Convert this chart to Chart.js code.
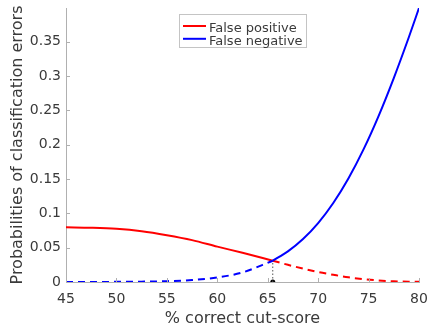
<!DOCTYPE html>
<html><head><meta charset="utf-8">
<script src="https://cdn.jsdelivr.net/npm/chart.js@4"></script>
<style>html,body{margin:0;padding:0;background:#fff;}#wrap{width:430px;height:333px;position:relative;}</style>
</head><body><div id="wrap"><canvas id="c" width="430" height="333"></canvas></div>
<script>
const cutScores      = [45, 47.5, 50, 52.5, 55, 57.5, 60, 62.5, 65.5, 67, 68.5, 70, 71.5, 73, 74.5, 76, 77.5, 79, 80];
const falsePositive  = [0.0796, 0.079, 0.0775, 0.074, 0.0682, 0.061, 0.0515, 0.0425, 0.031, 0.025, 0.0195, 0.0145, 0.0105, 0.0068, 0.0042, 0.0022, 0.001, 0.0004, 0.0003];
const falseNegative  = [0.0000, 0.0001, 0.0002, 0.0005, 0.0012, 0.0029, 0.0066, 0.0139, 0.031, 0.0446, 0.0626, 0.0858, 0.1151, 0.1508, 0.1931, 0.242, 0.297, 0.3568, 0.399];
const seriesLabels   = ['False positive', 'False negative'];
const xTicks         = [45, 50, 55, 60, 65, 70, 75, 80];
const xTickLabels    = ['45', '50', '55', '60', '65', '70', '75', '80'];
const yTicks         = [0, 0.05, 0.1, 0.15, 0.2, 0.25, 0.3, 0.35];
const yTickLabels    = ['0', '0.05', '0.1', '0.15', '0.2', '0.25', '0.3', '0.35'];
const cutoffScore    = 65.5;
const cutoffError    = 0.031;
const xTitle = '% correct cut-score';
const yTitle = 'Probabilities of classification errors';

const RED = '#ff0000', BLUE = '#0000ff', AXIS = '#b0b0b0', TEXT = '#3a3a3a';
const FONT = 'DejaVu Sans';
const splitIdx = cutScores.indexOf(cutoffScore);
const pts = arr => cutScores.map((x, i) => ({x: x, y: arr[i]}));
const fp = pts(falsePositive), fn = pts(falseNegative);

const innerTicks = {
  id: 'innerTicks',
  afterDraw(chart) {
    const {ctx, chartArea: a, scales: {x, y}} = chart;
    ctx.save();
    ctx.strokeStyle = AXIS; ctx.lineWidth = 1;
    ctx.beginPath();
    xTicks.forEach(v => { const p = Math.round(x.getPixelForValue(v)) + 0.5; ctx.moveTo(p, a.bottom); ctx.lineTo(p, a.bottom - 4); });
    yTicks.forEach(v => { const p = Math.round(y.getPixelForValue(v)) + 0.5; ctx.moveTo(a.left, p); ctx.lineTo(a.left + 4, p); });
    ctx.stroke();
    ctx.restore();
  }
};

const boxLegend = {
  id: 'boxLegend',
  afterDraw(chart) {
    const ctx = chart.ctx;
    const colors = [RED, BLUE];
    const left = 179.5, top = 14.5, w = 127, h = 33;
    ctx.save();
    ctx.fillStyle = '#fff';
    ctx.fillRect(left, top, w, h);
    ctx.strokeStyle = '#c4c4c4'; ctx.lineWidth = 1;
    ctx.strokeRect(left, top, w, h);
    ctx.font = '13px "' + FONT + '"';
    ctx.textBaseline = 'alphabetic';
    ctx.textAlign = 'left';
    seriesLabels.forEach((lab, i) => {
      const cy = 26 + i * 12.8;
      ctx.strokeStyle = colors[i]; ctx.lineWidth = 2;
      ctx.beginPath(); ctx.moveTo(183, cy); ctx.lineTo(206, cy); ctx.stroke();
      ctx.fillStyle = TEXT;
      ctx.fillText(lab, 209, 31.5 + i * 13.4);
    });
    ctx.restore();
  }
};

new Chart(document.getElementById('c'), {
  type: 'line',
  data: {
    datasets: [
      {label: seriesLabels[1], data: fn.slice(splitIdx), borderColor: BLUE, borderWidth: 2},
      {label: seriesLabels[1] + ' (below cut)', data: fn.slice(0, splitIdx + 1), borderColor: BLUE, borderWidth: 2, borderDash: [7, 5]},
      {label: seriesLabels[0], data: fp.slice(0, splitIdx + 1), borderColor: RED, borderWidth: 2},
      {label: seriesLabels[0] + ' (above cut)', data: fp.slice(splitIdx), borderColor: RED, borderWidth: 2, borderDash: [7, 5]},
      {label: 'cut', data: [{x: cutoffScore, y: 0}, {x: cutoffScore, y: cutoffError}], borderColor: '#555', borderWidth: 1, borderDash: [1.5, 2], cubicInterpolationMode: 'default', tension: 0},
      {label: 'cut point', data: [{x: cutoffScore, y: 0}], showLine: false, pointRadius: 2.5, pointBackgroundColor: '#000', pointBorderColor: '#000', pointBorderWidth: 0}
    ]
  },
  options: {
    responsive: false,
    animation: false,
    devicePixelRatio: 1,
    layout: {padding: {top: 8, right: 11, left: 0, bottom: 0}},
    elements: {point: {radius: 0}, line: {cubicInterpolationMode: 'monotone', fill: false}},
    plugins: {legend: {display: false}, tooltip: {enabled: false}},
    scales: {
      x: {
        type: 'linear', min: 45, max: 80,
        afterBuildTicks: s => { s.ticks = xTicks.map(v => ({value: v})); },
        afterFit: s => { s.height = 51; s.paddingLeft = 0; s.paddingRight = 0; },
        grid: {display: false, drawTicks: false},
        border: {display: true, color: AXIS, width: 1},
        ticks: {padding: 9, autoSkip: false, maxRotation: 0, color: TEXT, font: {family: FONT, size: 14},
                callback: v => xTickLabels[xTicks.indexOf(v)]},
        title: {display: true, text: xTitle, color: TEXT, font: {family: FONT, size: 16}, padding: {top: 0, bottom: 5}}
      },
      y: {
        type: 'linear', min: 0, max: 0.399,
        afterBuildTicks: s => { s.ticks = yTicks.map(v => ({value: v})); },
        afterFit: s => { s.width = 66; s.paddingTop = 0; s.paddingBottom = 0; },
        grid: {display: false, drawTicks: false},
        border: {display: true, color: AXIS, width: 1},
        ticks: {padding: 5, autoSkip: false, color: TEXT, font: {family: FONT, size: 14},
                callback: v => yTickLabels[yTicks.indexOf(v)]},
        title: {display: true, text: yTitle, color: TEXT, font: {family: FONT, size: 16}, padding: {top: 8, bottom: 0}}
      }
    }
  },
  plugins: [innerTicks, boxLegend]
});
</script></body></html>
